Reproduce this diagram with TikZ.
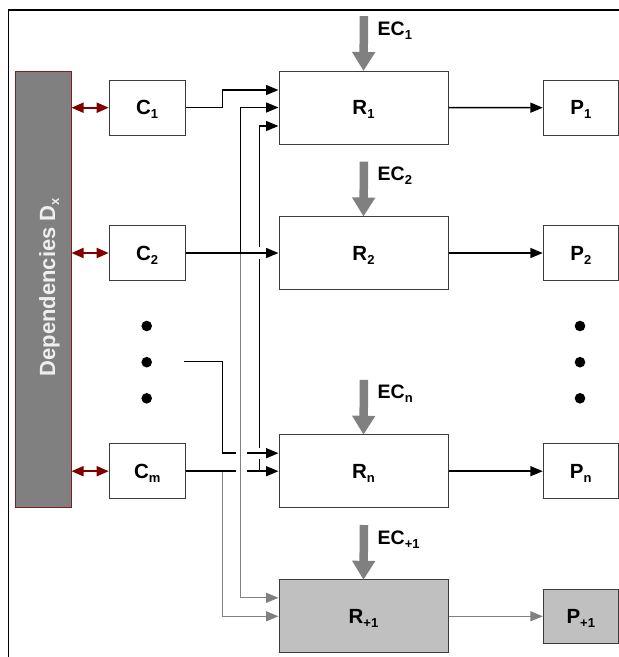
\documentclass[tikz,border=0pt]{standalone}
\usepackage{fontspec}
\setmainfont{Liberation Sans}
\usetikzlibrary{arrows.meta,calc}
\definecolor{depfill}{RGB}{128,128,128}
\definecolor{depline}{RGB}{130,30,30}
\definecolor{darkred}{RGB}{128,0,0}
\definecolor{boxline}{RGB}{60,60,60}
\definecolor{greyline}{RGB}{128,128,128}
\definecolor{lightfill}{RGB}{192,192,192}
\definecolor{deptext}{RGB}{238,238,238}
\newcommand\lowsub[1]{\raisebox{-4pt}[0pt][0pt]{\fontsize{13}{13}\selectfont #1}}
\begin{document}
\begin{tikzpicture}[x=1pt,y=-1pt,
  lbl/.style={font=\fontsize{20.5}{22}\selectfont\bfseries},
  box/.style={lbl, draw=boxline, line width=1pt, fill=white, inner sep=0pt},
  cbox/.style={box, minimum width=76pt, minimum height=55pt},
  rbox/.style={box, minimum width=169pt, minimum height=73pt},
  pbox/.style={box, minimum width=75pt, minimum height=55pt},
  greybox/.style={fill=lightfill},
  ectext/.style={font=\fontsize{19.5}{21}\selectfont\bfseries, anchor=base west, inner sep=0pt},
  blk/.style={line width=1.5pt, black},
  conn/.style={blk, -{Triangle[length=12.5pt,width=10pt]}},
  gry/.style={line width=1.3pt, greyline},
  gconn/.style={gry, -{Triangle[length=12.5pt,width=10pt]}},
  redarr/.style={line width=1.8pt, darkred, {Triangle[length=12pt,width=10pt]}-{Triangle[length=12pt,width=10pt]}},
  ecarrow/.style={line width=8.5pt, greyline, -{Triangle[length=19pt,width=22pt]}},
  dot/.style={circle, fill=black, inner sep=0pt, minimum size=10.6pt}
]
\useasboundingbox (0,0) rectangle (619,657);
% frame
\draw[line width=1.6pt] (8.3,657) -- (8.3,10) -- (619,10);

% dependencies
\node[draw=depline, line width=1pt, fill=depfill, minimum width=56pt, minimum height=436pt, inner sep=0pt] (dep) at (43,289) {};
\node[font=\fontsize{22}{24}\selectfont\bfseries, text=deptext, rotate=90, anchor=base, inner sep=0pt] (deplbl) at (55,287.3) {Dependencies D\lowsub{x}};

% C boxes
\node[cbox] (C1) at (147.2,107.7) {C\lowsub{1}};
\node[cbox] (C2) at (147.2,253) {C\lowsub{2}};
\node[cbox] (Cm) at (147.2,471.2) {C\lowsub{m}};
\node[dot] (ld1) at (146.7,326) {};
\node[dot] (ld2) at (146.7,362.2) {};
\node[dot] (ld3) at (146.7,398.3) {};

% R boxes
\node[rbox] (R1) at (363.5,107.5) {R\lowsub{1}};
\node[rbox] (R2) at (363.5,253) {R\lowsub{2}};
\node[rbox] (Rn) at (363.5,471.2) {R\lowsub{n}};
\node[rbox, greybox] (Rp) at (363.5,616.3) {R\lowsub{+1}};

% P boxes
\node[pbox] (P1) at (580.8,107.7) {P\lowsub{1}};
\node[pbox] (P2) at (580.8,253) {P\lowsub{2}};
\node[pbox] (Pn) at (580.8,471.2) {P\lowsub{n}};
\node[pbox, greybox, minimum height=54pt] (Pp) at (580.8,616.3) {P\lowsub{+1}};
\node[dot] (rd1) at (580,326) {};
\node[dot] (rd2) at (580,362.2) {};
\node[dot] (rd3) at (580,398.3) {};

% EC arrows and labels
\foreach \r/\t in {R1/1, R2/2, Rn/n, Rp/+1}{
  \coordinate (ec\r) at ($(\r.north)+(0.5,-54.3)$);
  \draw[ecarrow] (ec\r) -- ($(\r.north)+(0,0.5)$);
  \node[ectext] (ecl\r) at ($(\r.north)+(14,-35.3)$) {EC\lowsub{\t}};
}

% dependency arrows
\draw[redarr] (dep.east |- C1.west) -- (C1.west);
\draw[redarr] (dep.east |- C2.west) -- (C2.west);
\draw[redarr] (dep.east |- Cm.west) -- (Cm.west);

% junction columns
\coordinate (xa) at (222.7,0);
\coordinate (xb) at (240.7,0);
\coordinate (xc) at (259.3,0);
\coordinate (r1a) at ($(R1.west)+(0,-17.5)$);
\coordinate (r1c) at ($(R1.west)+(0,18.5)$);
\coordinate (rna) at ($(Rn.west)+(0,-18)$);
\coordinate (rpa) at ($(Rp.west)+(0,-18.5)$);
\coordinate (dl) at (184.3,361.7);

% grey connectors (drawn first)
\draw[gconn] (xb |- C2.east) -- (xb |- rpa) -- (rpa);
\draw[gconn] (xa |- Cm.east) -- (xa |- Rp.west) -- (Rp.west);
\draw[gconn] (Rp.east) -- (Pp.west);

% black connectors
\draw[conn] (C1.east) -- (C1.east -| xa) -- (xa |- r1a) -- (r1a);
\draw[conn] (C2.east) -- (R2.west);
\draw[conn] (xb |- C2.east) -- (xb |- R1.west) -- (R1.west);
\draw[blk] (Cm.east) -- ($(xb |- Cm.east)+(-4.5,0)$);
\draw[conn] ($(xb |- Cm.east)+(6.5,0)$) -- (Rn.west);
\draw[blk] (xc |- Cm.east) -- ($(xc |- rna)+(0,5.3)$);
\draw[blk] ($(xc |- rna)+(0,-5.3)$) -- ($(xc |- R2.west)+(0,6)$);
\draw[conn] ($(xc |- R2.west)+(0,-6)$) -- (xc |- r1c) -- (r1c);
\draw[blk] (dl) -- (dl -| xa) -- (xa |- rna) -- ($(xb |- rna)+(-4.5,0)$);
\draw[conn] ($(xb |- rna)+(6.5,0)$) -- (rna);

\draw[conn] (R1.east) -- (P1.west);
\draw[conn] (R2.east) -- (P2.west);
\draw[conn] (Rn.east) -- (Pn.west);
\end{tikzpicture}
\end{document}
